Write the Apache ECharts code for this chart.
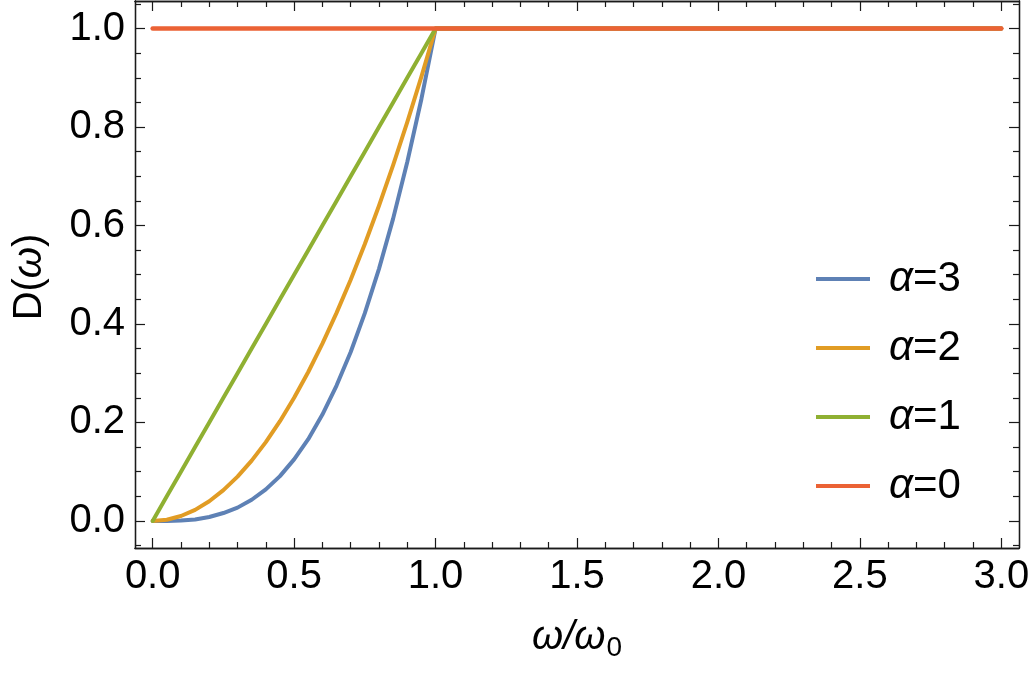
<!DOCTYPE html>
<html>
<head>
<meta charset="utf-8">
<script src="https://cdn.jsdelivr.net/npm/echarts@6/dist/echarts.min.js"></script>
<style>html,body{margin:0;padding:0;background:#fff;}#c{width:1035px;height:676px;}</style>
</head>
<body>
<div id="c"></div>
<script>
// ---- data ----
var xs      = [0, 0.05, 0.1, 0.15, 0.2, 0.25, 0.3, 0.35, 0.4, 0.45, 0.5, 0.55, 0.6, 0.65, 0.7, 0.75, 0.8, 0.85, 0.9, 0.95, 1.0, 3.0];
var alpha3  = [0, 0.000, 0.001, 0.003, 0.008, 0.016, 0.027, 0.043, 0.064, 0.091, 0.125, 0.166, 0.216, 0.275, 0.343, 0.422, 0.512, 0.614, 0.729, 0.857, 1.0, 1.0];
var alpha2  = [0, 0.0025, 0.010, 0.0225, 0.040, 0.0625, 0.090, 0.1225, 0.160, 0.2025, 0.250, 0.3025, 0.360, 0.4225, 0.490, 0.5625, 0.640, 0.7225, 0.810, 0.9025, 1.0, 1.0];
var alpha1  = [0, 0.05, 0.10, 0.15, 0.20, 0.25, 0.30, 0.35, 0.40, 0.45, 0.50, 0.55, 0.60, 0.65, 0.70, 0.75, 0.80, 0.85, 0.90, 0.95, 1.0, 1.0];
var alpha0  = [1, 1, 1, 1, 1, 1, 1, 1, 1, 1, 1, 1, 1, 1, 1, 1, 1, 1, 1, 1, 1, 1];
var seriesNames = ['α=3', 'α=2', 'α=1', 'α=0'];
var xMajorTicks = [0, 0.5, 1.0, 1.5, 2.0, 2.5, 3.0];
var xMinorTicks = [0.1, 0.2, 0.3, 0.4, 0.6, 0.7, 0.8, 0.9, 1.1, 1.2, 1.3, 1.4, 1.6, 1.7, 1.8, 1.9, 2.1, 2.2, 2.3, 2.4, 2.6, 2.7, 2.8, 2.9];
var yMajorTicks = [0, 0.2, 0.4, 0.6, 0.8, 1.0];
var yMinorTicks = [-0.05, 0.05, 0.1, 0.15, 0.25, 0.3, 0.35, 0.45, 0.5, 0.55, 0.65, 0.7, 0.75, 0.85, 0.9, 0.95, 1.05];

var colors = ['#5e81b5', '#e19c24', '#8fb032', '#eb6235'];
var widths = [4, 4, 4, 4.6];
var FONT = 'Liberation Sans';
var XMIN = -0.0625, XMAX = 3.0625, YMIN = -0.055, YMAX = 1.056;
var lineCol = '#1a1a1a';

function pairs(ys){ return xs.map(function(x,i){ return [x, ys[i]]; }); }

function xAxisDef(pos, ticks, len, labels){
  return {
    type: 'value', position: pos, min: XMIN, max: XMAX, gridIndex: 0,
    axisLine: { show: true, onZero: false, lineStyle: { color: lineCol, width: 1.3 } },
    axisTick: { show: true, inside: true, length: len, customValues: ticks, lineStyle: { color: lineCol, width: 1.2 } },
    axisLabel: labels ? { show: true, customValues: ticks, margin: 9, fontFamily: FONT, fontSize: 40, color: '#000',
      formatter: function(v){ return v.toFixed(1); } } : { show: false },
    splitLine: { show: false }, minorTick: { show: false }
  };
}
function yAxisDef(pos, ticks, len, labels){
  return {
    type: 'value', position: pos, min: YMIN, max: YMAX, gridIndex: 0,
    axisLine: { show: true, onZero: false, lineStyle: { color: lineCol, width: 1.3 } },
    axisTick: { show: true, inside: true, length: len, customValues: ticks, lineStyle: { color: lineCol, width: 1.2 } },
    axisLabel: labels ? { show: true, customValues: ticks, margin: 10, fontFamily: FONT, fontSize: 40, color: '#000',
      formatter: function(v){ return v.toFixed(1); } } : { show: false },
    splitLine: { show: false }, minorTick: { show: false }
  };
}

var dataSets = [alpha3, alpha2, alpha1, alpha0];
var series = dataSets.map(function(d, i){
  return {
    name: seriesNames[i], type: 'line', xAxisIndex: 0, yAxisIndex: 0,
    data: pairs(d), showSymbol: false, symbol: 'none', smooth: false,
    lineStyle: { color: colors[i], width: widths[i], join: 'round', cap: 'round' }, itemStyle: { color: colors[i] },
    z: 3 + i, animation: false
  };
});

var chart = echarts.init(document.getElementById('c'), null, { renderer: 'canvas' });
chart.setOption({
  animation: false,
  backgroundColor: '#fff',
  grid: { left: 135, top: 1, right: 16, bottom: 128, containLabel: false },
  xAxis: [
    xAxisDef('bottom', xMajorTicks, 10, true),
    xAxisDef('bottom', xMinorTicks, 6, false),
    xAxisDef('top', xMajorTicks, 10, false),
    xAxisDef('top', xMinorTicks, 6, false)
  ],
  yAxis: [
    yAxisDef('left', yMajorTicks, 10, true),
    yAxisDef('left', yMinorTicks, 6, false),
    yAxisDef('right', yMajorTicks, 10, false),
    yAxisDef('right', yMinorTicks, 6, false)
  ],
  legend: {
    orient: 'vertical', left: 811, top: 253,
    itemWidth: 54, itemHeight: 4, itemGap: 27,
    icon: 'rect',
    data: seriesNames,
    formatter: function(n){ return '{a|α}{b|' + n.slice(1) + '}'; },
    textStyle: {
      padding: [0, 0, 0, 14],
      rich: {
        a: { fontFamily: FONT, fontStyle: 'italic', fontSize: 42, color: '#000' },
        b: { fontFamily: FONT, fontSize: 42, color: '#000' }
      }
    }
  },
  graphic: [
    {
      type: 'text', x: 577, y: 638,
      style: {
        text: '{w|ω/ω}{s|0}', align: 'center', verticalAlign: 'middle',
        rich: {
          w: { fontFamily: FONT, fontStyle: 'italic', fontSize: 40, color: '#000' },
          s: { fontFamily: FONT, fontSize: 28, color: '#000', padding: [20, 0, 0, 1] }
        }
      }
    },
    {
      type: 'text', x: 30, y: 277, rotation: Math.PI / 2,
      style: {
        text: '{d|D(}{w|ω}{d|)}', align: 'center', verticalAlign: 'middle',
        rich: {
          d: { fontFamily: FONT, fontSize: 40, color: '#000' },
          w: { fontFamily: FONT, fontStyle: 'italic', fontSize: 40, color: '#000' }
        }
      }
    }
  ],
  series: series
});
</script>
</body>
</html>
